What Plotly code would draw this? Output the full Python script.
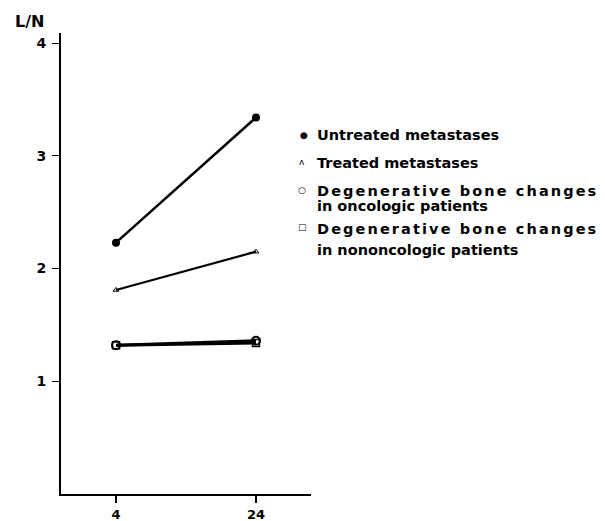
import plotly.graph_objects as go

hours = [4, 24]
untreated = [2.23, 3.34]
treated = [1.81, 2.15]
degen_onc = [1.32, 1.36]
degen_nononc = [1.32, 1.34]
y_ticks = [1, 2, 3, 4]
x_ticks = [4, 24]

legend_symbols = ["●", "ʌ", "○", "□"]
legend_lines = [
    ["Untreated metastases"],
    ["Treated metastases"],
    ["Degenerative bone changes", "in oncologic patients"],
    ["Degenerative bone changes", "in nononcologic patients"],
]

FONT = "DejaVu Sans, Liberation Sans, Arial, sans-serif"
W, H = 605, 521
ML, MR, MT, MB = 61, 294, 33, 27

fig = go.Figure()
fig.add_trace(go.Scatter(x=hours, y=untreated, mode="lines+markers",
                         line=dict(color="black", width=2.5),
                         marker=dict(symbol="circle", size=8, color="black")))
fig.add_trace(go.Scatter(x=hours, y=treated, mode="lines+markers",
                         line=dict(color="black", width=2.2),
                         marker=dict(symbol="triangle-up-open", size=5, color="black",
                                     line=dict(width=1))))
fig.add_trace(go.Scatter(x=hours, y=degen_onc, mode="lines+markers",
                         line=dict(color="black", width=3),
                         marker=dict(symbol="circle-open", size=8, color="black",
                                     line=dict(width=2))))
fig.add_trace(go.Scatter(x=hours, y=degen_nononc, mode="lines+markers",
                         line=dict(color="black", width=3),
                         marker=dict(symbol="square-open", size=7, color="black",
                                     line=dict(width=1.5))))


def px(xp, yp):
    pw = W - ML - MR
    ph = H - MT - MB
    return (xp - ML) / pw, (H - MB - yp) / ph


annotations = []
x0, y0 = px(13, 21)
annotations.append(dict(text="<b>L/N</b>", x=x0, y=y0, xref="paper", yref="paper",
                        xanchor="left", yanchor="middle", showarrow=False,
                        font=dict(size=16, family=FONT)))

sym_pos = [(304, 135), (302, 162), (302, 190), (302, 227)]
sym_sizes = [9, 9, 9, 9]
line_pos = [[135], [163], [191, 206], [228.5, 250]]
for sym, (sxp, syp), ss, lines, ys in zip(legend_symbols, sym_pos, sym_sizes,
                                          legend_lines, line_pos):
    sx, sy = px(sxp, syp)
    annotations.append(dict(text=sym, x=sx, y=sy, xref="paper", yref="paper",
                            xanchor="center", yanchor="middle", showarrow=False,
                            font=dict(size=ss, family=FONT)))
    for ln, yp in zip(lines, ys):
        tx, ty = px(315, yp)
        if ln.startswith("Degenerative"):
            txt = '<span style="letter-spacing:2.1px"><b>' + ln + '</b></span>'
        else:
            txt = "<b>" + ln + "</b>"
        annotations.append(dict(text=txt, x=tx, y=ty, xref="paper", yref="paper",
                                xanchor="left", yanchor="middle", align="left",
                                showarrow=False,
                                font=dict(size=14.5, family=FONT)))

fig.update_layout(
    width=W, height=H,
    margin=dict(l=ML, r=MR, t=MT, b=MB),
    paper_bgcolor="white", plot_bgcolor="white",
    showlegend=False,
    font=dict(family=FONT, color="black"),
    annotations=annotations,
    xaxis=dict(range=[-3.86, 31.86], tickvals=x_ticks, ticktext=[str(v) for v in x_ticks],
               showline=True, linecolor="black", linewidth=2, ticks="outside",
               ticklen=7, tickwidth=1.5, tickcolor="black", showgrid=False, zeroline=False,
               automargin=False, ticklabelstandoff=0,
               tickfont=dict(size=13, family=FONT, weight="bold")),
    yaxis=dict(range=[0, 4.09], tickvals=y_ticks, ticktext=[str(v) for v in y_ticks],
               showline=True, linecolor="black", linewidth=2, ticks="outside",
               ticklen=7, tickwidth=1.2, tickcolor="black", showgrid=False, zeroline=False,
               automargin=False, ticklabelstandoff=3,
               tickfont=dict(size=14, family=FONT, weight="bold")),
)

fig.write_html("out.html", config={"displayModeBar": False},
               post_script="document.body.style.margin='0px';")
